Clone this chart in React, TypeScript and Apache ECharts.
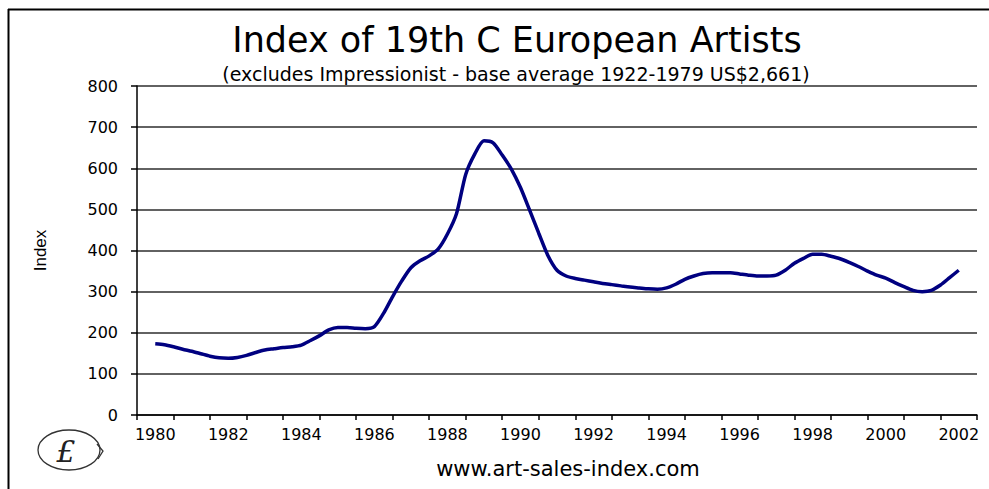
import React, { useEffect, useRef } from "react";
import * as echarts from "echarts";

const TITLE = "Index of 19th C European Artists";
const SUBTITLE = "(excludes Impressionist - base average 1922-1979 US$2,661)";
const FOOTER = "www.art-sales-index.com";
const Y_NAME = "Index";

const YEARS = [
  "1980", "1981", "1982", "1983", "1984", "1985", "1986", "1987", "1988", "1989",
  "1990", "1991", "1992", "1993", "1994", "1995", "1996", "1997", "1998", "1999",
  "2000", "2001", "2002",
];

// Quarterly readings starting 1980.00, one every quarter year
const START_YEAR = 1980;
const STEP_YEARS = 0.25;
const INDEX_VALUES = [
  173, 171, 166, 160, 155, 149, 143, 139, 138, 140,
  145, 152, 158, 161, 164, 166, 170, 181, 193, 207,
  213, 213, 211, 210, 215, 247, 288, 326, 358, 375,
  387, 404, 440, 490, 585, 635, 667, 662, 632, 598,
  553, 498, 442, 388, 352, 338, 332, 328, 324, 320,
  317, 314, 311, 309, 307, 306, 309, 318, 330, 338,
  344, 346, 346, 346, 343, 340, 338, 338, 340, 352,
  369, 381, 391, 391, 386, 380, 371, 361, 350, 340,
  333, 322, 312, 303, 300, 303, 316, 334, 352,
];

const Y_MIN = 0;
const Y_MAX = 800;
const Y_STEP = 100;

export default function App() {
  const ref = useRef<HTMLDivElement>(null);

  useEffect(() => {
    if (!ref.current) return;
    const chart = echarts.init(ref.current, undefined, { renderer: "svg" });
    const seriesData = INDEX_VALUES.map((v, i) => [START_YEAR + i * STEP_YEARS, v]);

    chart.setOption({
      animation: false,
      backgroundColor: "#ffffff",
      grid: { left: 137, right: 12, top: 86, bottom: 74, containLabel: false },
      xAxis: [
        {
          type: "category",
          data: YEARS,
          boundaryGap: true,
          axisLine: { show: true, lineStyle: { color: "#000", width: 1.5 } },
          axisTick: { show: true, interval: 0, length: 5, lineStyle: { color: "#000", width: 1.5 } },
          axisLabel: {
            interval: 1,
            color: "#000",
            fontFamily: "DejaVu Sans",
            fontSize: 16,
            margin: 11,
          },
          splitLine: { show: false },
        },
        {
          type: "value",
          min: START_YEAR - 0.5,
          max: Number(YEARS[YEARS.length - 1]) + 0.5,
          show: false,
          splitLine: { show: false },
        },
      ],
      yAxis: {
        type: "value",
        min: Y_MIN,
        max: Y_MAX,
        interval: Y_STEP,
        name: Y_NAME,
        nameLocation: "middle",
        nameRotate: 90,
        nameGap: 88,
        nameTextStyle: { fontFamily: "Liberation Sans", fontSize: 17, color: "#000" },
        axisLine: { show: true, lineStyle: { color: "#000", width: 1.5 } },
        axisTick: { show: true, length: 6, lineStyle: { color: "#000", width: 1.5 } },
        axisLabel: { color: "#000", fontFamily: "DejaVu Sans", fontSize: 16, margin: 19 },
        splitLine: { show: true, lineStyle: { color: "#2e2e2e", width: 1.5 } },
      },
      series: [
        {
          type: "line",
          xAxisIndex: 1,
          data: seriesData,
          smooth: 0.25,
          showSymbol: false,
          lineStyle: { color: "#000080", width: 3.5 },
          itemStyle: { color: "#000080" },
        },
      ],
      graphic: [
        { type: "line", shape: { x1: 8, y1: 9.5, x2: 995, y2: 9.5 }, style: { stroke: "#000", lineWidth: 2 } },
        { type: "line", shape: { x1: 8.5, y1: 9, x2: 8.5, y2: 495 }, style: { stroke: "#000", lineWidth: 2 } },
        {
          type: "text",
          x: 517,
          y: 40,
          style: {
            text: TITLE,
            fill: "#000",
            font: "35px 'DejaVu Sans'",
            textAlign: "center",
            textVerticalAlign: "middle",
          },
        },
        {
          type: "text",
          x: 516,
          y: 74,
          style: {
            text: SUBTITLE,
            fill: "#000",
            font: "19px 'DejaVu Sans'",
            textAlign: "center",
            textVerticalAlign: "middle",
          },
        },
        {
          type: "text",
          x: 568,
          y: 469,
          style: {
            text: FOOTER,
            fill: "#000",
            font: "21px 'DejaVu Sans'",
            textAlign: "center",
            textVerticalAlign: "middle",
          },
        },
        {
          type: "ellipse",
          shape: { cx: 69, cy: 450, rx: 31, ry: 20 },
          style: { fill: "none", stroke: "#333", lineWidth: 1.3 },
        },
        {
          type: "polyline",
          shape: { points: [[97, 444], [103, 451], [98, 459]] },
          style: { fill: "none", stroke: "#333", lineWidth: 1.3 },
        },
        {
          type: "text",
          x: 66,
          y: 451,
          style: {
            text: "£",
            fill: "#222",
            font: "italic 30px 'DejaVu Serif'",
            textAlign: "center",
            textVerticalAlign: "middle",
          },
        },
      ],
    });

    return () => chart.dispose();
  }, []);

  return (
    <div
      ref={ref}
      style={{ position: "fixed", left: 0, top: 0, width: 989, height: 489, background: "#fff" }}
    />
  );
}
